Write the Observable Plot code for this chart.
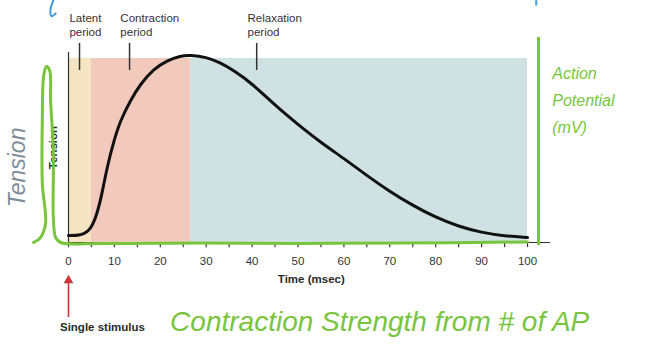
<!DOCTYPE html>
<html>
<head>
<meta charset="utf-8">
<script src="https://cdn.jsdelivr.net/npm/d3@7"></script>
<script src="https://cdn.jsdelivr.net/npm/@observablehq/plot@0.6"></script>
<style>
  html, body { margin: 0; padding: 0; background: #fff; }
  svg { display: block; overflow: visible; }
</style>
</head>
<body>
<div id="chart"></div>
<script>
// ---- data ----
const twitchTime    = [0, 2.6, 4.8, 6.25, 7.3, 8.4, 9.9, 11.3, 13.5, 15.7, 18.6, 21.5, 24.4, 26.5, 30, 33, 36, 40, 45, 50, 55, 60, 65, 70, 75, 80, 85, 90, 95, 100];
const twitchTension = [3.8, 3.8, 6.5, 15.6, 26.5, 40.9, 55.4, 66.3, 77.2, 86.3, 94.4, 98.9, 101.4, 101.8, 100.8, 97.8, 93.5, 86.4, 74.5, 64.1, 54.3, 45.7, 36.4, 27.7, 20.1, 13.6, 8.7, 5.4, 3.5, 2.7];

const periodNames  = ["Latent\nperiod", "Contraction\nperiod", "Relaxation\nperiod"];
const periodStart  = [0, 5, 26.6];
const periodEnd    = [5, 26.6, 100];
const periodColors = ["#f6e5c3", "#f1cabd", "#cfe1e3"];
const periodLabelX = [0.2, 11.3, 39.0];
const periodPointX = [2.4, 13.3, 41.0];

const majorTicks = d3.range(0, 101, 10);
const minorTicks = d3.range(0, 101, 5);

// hand-drawn annotations (data units: msec, tension)
const greenTime    = [-7.6, -6.1, -5.0, -5.7, -5.7, -5.4, -4.8, -4.1, -3.9, -3.3, -3.3, -2.8, -1.7, 7, 28.8, 50.5, 72.3, 100];
const greenTension = [0, 2.7, 10.3, 32.1, 67.9, 90.8, 95.7, 93.5, 77.2, 50, 13.6, 2.7, 0, -0.5, -0.3, -0.5, -0.3, 0.3];

const twitch = twitchTime.map((t, i) => ({t, v: twitchTension[i]}));
const periods = periodNames.map((name, i) => ({name, x1: periodStart[i], x2: periodEnd[i], color: periodColors[i], lx: periodLabelX[i], px: periodPointX[i]}));
const green = greenTime.map((t, i) => ({t, v: greenTension[i]}));

const GREEN = "#78c53d";
const TXT = "#2a2a2a";
const RED = "#d0343a";

const chart = Plot.plot({
  width: 645,
  height: 355,
  marginLeft: 68,
  marginRight: 118,
  marginTop: 58,
  marginBottom: 113,
  x: {domain: [0, 100], axis: null},
  y: {domain: [0, 100], axis: null},
  style: {fontFamily: "Liberation Sans, Arial, sans-serif", background: "#fff", overflow: "visible"},
  marks: [
    // period background bands
    Plot.rectY(periods, {x1: "x1", x2: "x2", y1: 0, y2: 100, fill: "color"}),
    // y axis line
    Plot.ruleX([0], {y1: 0, y2: 103.3, stroke: "#333", strokeWidth: 1.2}),
    // x axis line
    Plot.ruleY([0], {x1: 0, x2: 105, stroke: "#333", strokeWidth: 1.2}),
    // x ticks
    Plot.ruleX(minorTicks, {y1: 0, y2: -2.8, stroke: "#333", strokeWidth: 1.2}),
    Plot.text(majorTicks, {x: d => d, y: 0, dy: 19, text: d => String(d), fontSize: 11.5, fill: "#333"}),
    Plot.text(["Time (msec)"], {x: 52.9, y: 0, dy: 37, text: d => d, fontSize: 11.5, fontWeight: "bold", fill: TXT}),
    Plot.text(["Tension"], {x: -3.2, y: 51.6, text: d => d, rotate: -90, fontSize: 11.5, fontWeight: "bold", fill: TXT}),
    // period labels and pointers
    Plot.text(periods, {x: "lx", y: 125.5, text: "name", textAnchor: "start", lineAnchor: "top", lineHeight: 1.22, fontSize: 11.5, fill: "#333"}),
    Plot.ruleX(periods, {x: "px", y1: 108.2, y2: 93.5, stroke: "#333", strokeWidth: 1.5}),
    // twitch curve
    Plot.line(twitch, {x: "t", y: "v", curve: "basis", stroke: "#111", strokeWidth: 3}),
    // stimulus arrow
    Plot.ruleX([0], {y1: -40.8, y2: -21, stroke: RED, strokeWidth: 1.6}),
    Plot.dot([0], {x: 0, y: -20.6, symbol: "triangle", r: 3.6, fill: RED, stroke: "none"}),
    Plot.text(["Single stimulus"], {x: 7.4, y: 0, dy: 85, text: d => d, fontSize: 11.5, fontWeight: "bold", fill: TXT}),
    // hand-drawn annotations
    Plot.line(green, {x: "t", y: "v", curve: "catmull-rom", stroke: GREEN, strokeWidth: 3}),
    Plot.ruleX([102.4], {y1: -1.6, y2: 111.4, stroke: GREEN, strokeWidth: 3}),
    Plot.text(["Action\nPotential\n(mV)"], {x: 105.4, y: 99.5, text: d => d, textAnchor: "start", lineAnchor: "top", lineHeight: 1.7, fontSize: 16, fontStyle: "italic", fill: GREEN}),
    Plot.text(["Contraction Strength from # of AP"], {x: 67.8, y: 0, dy: 80, text: d => d, fontSize: 28, fontStyle: "italic", fill: GREEN}),
    Plot.text(["Tension"], {x: -11.1, y: 40.8, text: d => d, rotate: -90, fontSize: 23, fontStyle: "italic", fill: "#7f8d98"}),
    // small blue marks at top
    Plot.line([{t: -3.3, v: 131.5}, {t: -3.9, v: 127}, {t: -3.7, v: 123}, {t: -2.8, v: 124.5}], {x: "t", y: "v", curve: "catmull-rom", stroke: "#3d9be0", strokeWidth: 2}),
    Plot.ruleX([101.9], {y1: 128.5, y2: 131.5, stroke: "#3d9be0", strokeWidth: 2})
  ]
});
document.getElementById("chart").appendChild(chart);
</script>
</body>
</html>
